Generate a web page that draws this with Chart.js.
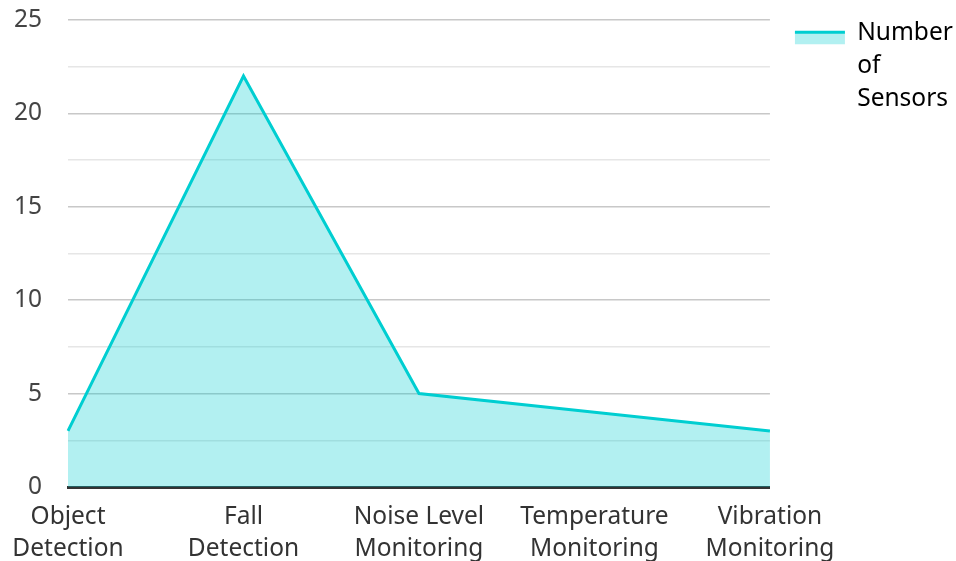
<!DOCTYPE html>
<html>
<head>
<meta charset="utf-8">
<script src="https://cdn.jsdelivr.net/npm/chart.js@4"></script>
<style>
  html, body { margin: 0; padding: 0; background: #fff; }
  #wrap { width: 956px; height: 561px; }
</style>
</head>
<body>
<div id="wrap"><canvas id="sensors-chart"></canvas></div>
<script>
const categories = [
    ['Object', 'Detection'],
    ['Fall', 'Detection'],
    ['Noise Level', 'Monitoring'],
    ['Temperature', 'Monitoring'],
    ['Vibration', 'Monitoring']
];
const sensorCounts = [3, 22, 5, 4, 3];
const seriesName = ['Number', 'of', 'Sensors'];

document.addEventListener('DOMContentLoaded', function () {
    const ctx = document.getElementById('sensors-chart').getContext('2d');
    const teal = 'rgb(0, 206, 209)';
    const tealFill = 'rgba(0, 206, 209, 0.3)';
    const fontSize = 24.5;

    // legend swatch: light fill with a line on top, like the original
    const legendSwatch = {
        id: 'legendSwatch',
        afterDraw(chart) {
            const legend = chart.legend;
            if (!legend || !legend.legendHitBoxes) return;
            const c = chart.ctx;
            const bw = legend.options.labels.boxWidth;
            legend.legendHitBoxes.forEach(box => {
                const y = box.top + fontSize / 2 - 1;
                c.save();
                c.fillStyle = tealFill;
                c.fillRect(box.left, y, bw, 12);
                c.strokeStyle = teal;
                c.lineWidth = 3;
                c.beginPath();
                c.moveTo(box.left, y);
                c.lineTo(box.left + bw, y);
                c.stroke();
                c.restore();
            });
        }
    };

    new Chart(ctx, {
        type: 'line',
        data: {
            labels: categories,
            datasets: [{
                label: seriesName,
                data: sensorCounts,
                borderColor: teal,
                backgroundColor: tealFill,
                borderWidth: 3,
                pointRadius: 0,
                tension: 0,
                fill: 'origin'
            }]
        },
        options: {
            responsive: true,
            maintainAspectRatio: false,
            animation: false,
            layout: { padding: { top: -4, right: -2, left: 0, bottom: 0 } },
            font: { family: '"Noto Sans"' },
            scales: {
                x: {
                    offset: false,
                    grid: { display: false },
                    border: { display: true, color: '#333333', width: 3 },
                    afterFit: scale => { scale.height = 74; },
                    ticks: {
                        color: '#333333',
                        maxRotation: 0,
                        autoSkip: false,
                        padding: 6,
                        font: { family: '"Noto Sans"', size: fontSize, lineHeight: 1.3 }
                    }
                },
                y: {
                    min: 0,
                    max: 25,
                    border: { display: false },
                    afterFit: scale => {
                        scale.width = 68;
                        scale.paddingTop = 20;
                        scale.paddingBottom = 0;
                    },
                    grid: {
                        drawTicks: false,
                        lineWidth: 1.5,
                        color: c => (c.tick && c.tick.value % 5 === 0) ? '#c8c8c8' : '#e6e6e6'
                    },
                    ticks: {
                        stepSize: 2.5,
                        color: '#444444',
                        padding: 26,
                        font: { family: '"Noto Sans"', size: fontSize },
                        callback: v => (v % 5 === 0 ? v : '')
                    }
                }
            },
            plugins: {
                legend: {
                    position: 'right',
                    align: 'start',
                    labels: {
                        color: '#333333',
                        boxWidth: 50,
                        boxHeight: 12,
                        padding: 25,
                        font: { family: '"Noto Sans"', size: fontSize, lineHeight: 1.35 },
                        generateLabels: chart => chart.data.datasets.map((ds, i) => ({
                            text: ds.label,
                            fillStyle: 'rgba(0,0,0,0)',
                            strokeStyle: 'rgba(0,0,0,0)',
                            lineWidth: 0,
                            datasetIndex: i,
                            hidden: !chart.isDatasetVisible(i)
                        }))
                    }
                },
                tooltip: { enabled: false }
            }
        },
        plugins: [legendSwatch]
    });
});
</script>
</body>
</html>
